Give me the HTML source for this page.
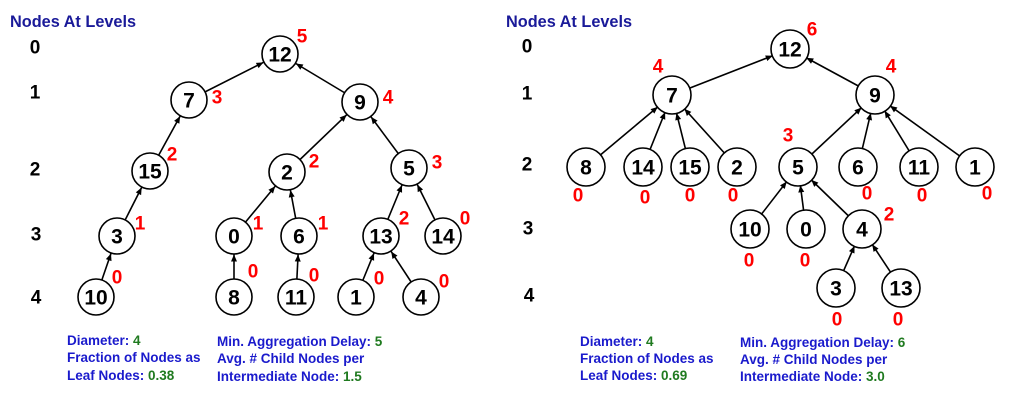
<!DOCTYPE html>
<html><head><meta charset="utf-8"><style>
body{margin:0;background:#fff;width:1024px;height:412px;overflow:hidden}
svg text{font-family:"Liberation Sans",Arial,sans-serif;font-weight:bold}
.n{font-size:21px;fill:#000;text-anchor:middle;dominant-baseline:central}
.r{font-size:19px;fill:#f00;text-anchor:middle;dominant-baseline:central}
.l{font-size:19px;fill:#000;text-anchor:middle;dominant-baseline:central}
.t{font-size:16.3px;fill:#1a1a99}
.b{font-size:13.5px;fill:#1a1acc}
.g{fill:#1f7a1f}
circle{fill:#fff;stroke:#000;stroke-width:1.6}
line{stroke:#000;stroke-width:1.6;marker-end:url(#a)}
</style></head><body>
<svg width="1024" height="412" viewBox="0 0 1024 412">
<defs><marker id="a" markerUnits="userSpaceOnUse" markerWidth="30" markerHeight="12" refX="18.5" refY="0" viewBox="-8 -6 30 12" orient="auto"><path d="M0,0 L-7,-3 L-7,3 Z" fill="#000"/></marker></defs>

<text class="t" x="10" y="27">Nodes At Levels</text>
<text class="l" x="35" y="48">0</text><text class="l" x="35" y="93">1</text><text class="l" x="35" y="170">2</text><text class="l" x="36" y="235">3</text><text class="l" x="36" y="298">4</text>

<line x1="189" y1="100" x2="280" y2="54"/><line x1="360" y1="102" x2="280" y2="54"/>
<line x1="150" y1="171" x2="189" y2="100"/><line x1="287" y1="172" x2="360" y2="102"/><line x1="409" y1="168" x2="360" y2="102"/>
<line x1="117" y1="236" x2="150" y2="171"/><line x1="234" y1="236" x2="287" y2="172"/><line x1="299" y1="236" x2="287" y2="172"/>
<line x1="381" y1="236" x2="409" y2="168"/><line x1="443" y1="236" x2="409" y2="168"/>
<line x1="96" y1="297" x2="117" y2="236"/><line x1="234" y1="297" x2="234" y2="236"/><line x1="296" y1="297" x2="299" y2="236"/>
<line x1="356" y1="297" x2="381" y2="236"/><line x1="421" y1="297" x2="381" y2="236"/>

<g>
<circle cx="280" cy="54" r="18"/><text class="n" x="280" y="55">12</text>
<circle cx="189" cy="100" r="18"/><text class="n" x="189" y="101">7</text>
<circle cx="360" cy="102" r="18"/><text class="n" x="360" y="103">9</text>
<circle cx="150" cy="171" r="18"/><text class="n" x="150" y="172">15</text>
<circle cx="287" cy="172" r="18"/><text class="n" x="287" y="173">2</text>
<circle cx="409" cy="168" r="18"/><text class="n" x="409" y="169">5</text>
<circle cx="117" cy="236" r="18"/><text class="n" x="117" y="237">3</text>
<circle cx="234" cy="236" r="18"/><text class="n" x="234" y="237">0</text>
<circle cx="299" cy="236" r="18"/><text class="n" x="299" y="237">6</text>
<circle cx="381" cy="236" r="18"/><text class="n" x="381" y="237">13</text>
<circle cx="443" cy="236" r="18"/><text class="n" x="443" y="237">14</text>
<circle cx="96" cy="297" r="18"/><text class="n" x="96" y="298">10</text>
<circle cx="234" cy="297" r="18"/><text class="n" x="234" y="298">8</text>
<circle cx="296" cy="297" r="18"/><text class="n" x="296" y="298">11</text>
<circle cx="356" cy="297" r="18"/><text class="n" x="356" y="298">1</text>
<circle cx="421" cy="297" r="18"/><text class="n" x="421" y="298">4</text>
</g>
<text class="r" x="302" y="37">5</text><text class="r" x="217" y="98">3</text><text class="r" x="388" y="98">4</text>
<text class="r" x="172" y="155">2</text><text class="r" x="314" y="162">2</text><text class="r" x="437" y="163">3</text>
<text class="r" x="140" y="224">1</text><text class="r" x="258" y="224">1</text><text class="r" x="323" y="224">1</text>
<text class="r" x="404" y="219">2</text><text class="r" x="465" y="219">0</text>
<text class="r" x="117" y="278">0</text><text class="r" x="253" y="272">0</text><text class="r" x="314" y="276">0</text>
<text class="r" x="379" y="279">0</text><text class="r" x="444" y="282">0</text>

<text class="b" x="67" y="345">Diameter: <tspan class="g">4</tspan></text>
<text class="b" x="67" y="362">Fraction of Nodes as</text>
<text class="b" x="67" y="380">Leaf Nodes: <tspan class="g">0.38</tspan></text>
<text class="b" x="217" y="346">Min. Aggregation Delay: <tspan class="g">5</tspan></text>
<text class="b" x="217" y="363">Avg. # Child Nodes per</text>
<text class="b" x="217" y="381">Intermediate Node: <tspan class="g">1.5</tspan></text>

<text class="t" x="506" y="27">Nodes At Levels</text>
<text class="l" x="527" y="47">0</text><text class="l" x="527" y="94">1</text><text class="l" x="527" y="165">2</text><text class="l" x="528" y="229">3</text><text class="l" x="529" y="296">4</text>

<line x1="672" y1="95" x2="790" y2="49"/><line x1="875" y1="95" x2="790" y2="49"/>
<line x1="586" y1="167" x2="672" y2="95"/><line x1="643" y1="167" x2="672" y2="95"/><line x1="690" y1="167" x2="672" y2="95"/><line x1="737" y1="167" x2="672" y2="95"/>
<line x1="798" y1="167" x2="875" y2="95"/><line x1="858" y1="167" x2="875" y2="95"/><line x1="919" y1="167" x2="875" y2="95"/><line x1="975" y1="167" x2="875" y2="95"/>
<line x1="750" y1="229" x2="798" y2="167"/><line x1="806" y1="229" x2="798" y2="167"/><line x1="862" y1="229" x2="798" y2="167"/>
<line x1="836" y1="288" x2="862" y2="229"/><line x1="901" y1="288" x2="862" y2="229"/>

<g>
<circle cx="790" cy="49" r="19"/><text class="n" x="790" y="50">12</text>
<circle cx="672" cy="95" r="19"/><text class="n" x="672" y="96">7</text>
<circle cx="875" cy="95" r="19"/><text class="n" x="875" y="96">9</text>
<circle cx="586" cy="167" r="19"/><text class="n" x="586" y="168">8</text>
<circle cx="643" cy="167" r="19"/><text class="n" x="643" y="168">14</text>
<circle cx="690" cy="167" r="19"/><text class="n" x="690" y="168">15</text>
<circle cx="737" cy="167" r="19"/><text class="n" x="737" y="168">2</text>
<circle cx="798" cy="167" r="19"/><text class="n" x="798" y="168">5</text>
<circle cx="858" cy="167" r="19"/><text class="n" x="858" y="168">6</text>
<circle cx="919" cy="167" r="19"/><text class="n" x="919" y="168">11</text>
<circle cx="975" cy="167" r="19"/><text class="n" x="975" y="168">1</text>
<circle cx="750" cy="229" r="19"/><text class="n" x="750" y="230">10</text>
<circle cx="806" cy="229" r="19"/><text class="n" x="806" y="230">0</text>
<circle cx="862" cy="229" r="19"/><text class="n" x="862" y="230">4</text>
<circle cx="836" cy="288" r="19"/><text class="n" x="836" y="289">3</text>
<circle cx="901" cy="288" r="19"/><text class="n" x="901" y="289">13</text>
</g>
<text class="r" x="812" y="30">6</text><text class="r" x="658" y="67">4</text><text class="r" x="891" y="67">4</text>
<text class="r" x="788" y="136">3</text><text class="r" x="889" y="215">2</text>
<text class="r" x="578" y="196">0</text><text class="r" x="645" y="198">0</text><text class="r" x="690" y="196">0</text><text class="r" x="733" y="196">0</text>
<text class="r" x="867" y="194">0</text><text class="r" x="922" y="196">0</text><text class="r" x="987" y="194">0</text>
<text class="r" x="749" y="261">0</text><text class="r" x="805" y="261">0</text>
<text class="r" x="837" y="320">0</text><text class="r" x="898" y="320">0</text>

<text class="b" x="580" y="346">Diameter: <tspan class="g">4</tspan></text>
<text class="b" x="580" y="363">Fraction of Nodes as</text>
<text class="b" x="580" y="380">Leaf Nodes: <tspan class="g">0.69</tspan></text>
<text class="b" x="740" y="347">Min. Aggregation Delay: <tspan class="g">6</tspan></text>
<text class="b" x="740" y="364">Avg. # Child Nodes per</text>
<text class="b" x="740" y="381">Intermediate Node: <tspan class="g">3.0</tspan></text>
</svg>
</body></html>
